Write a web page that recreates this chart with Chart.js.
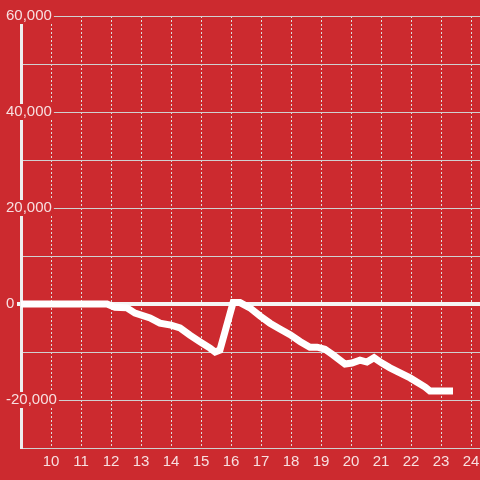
<!DOCTYPE html>
<html>
<head>
<meta charset="utf-8">
<script src="https://cdn.jsdelivr.net/npm/chart.js@4/dist/chart.umd.min.js"></script>
<style>
  html, body { margin: 0; padding: 0; background: #cc2a2f; }
  #wrap { width: 480px; height: 480px; position: relative; }
</style>
</head>
<body>
<div id="wrap"><canvas id="chart"></canvas></div>
<script>
  const BG = "#cc2a2f";
  const TEXT = "rgba(255, 255, 255, 0.85)";

  // hour of day -> running value
  const hours = [9, 11.87, 12.13, 12.53, 12.8, 13.3, 13.63, 14.0, 14.3, 14.63, 14.97, 15.3,
    15.47, 15.63, 16.07, 16.3, 16.63, 16.97, 17.3, 17.63, 17.97, 18.3, 18.63, 18.87, 19.13,
    19.4, 19.8, 20.03, 20.3, 20.53, 20.77, 21.03, 21.3, 21.97, 22.47, 22.63, 23.4];
  const values = [0, 0, -700, -800, -1900, -2900, -4000, -4400, -5000, -6500, -7900, -9200,
    -10000, -9600, 300, 300, -800, -2500, -4000, -5200, -6400, -7800, -9000, -9000, -9400,
    -10600, -12500, -12300, -11700, -12100, -11200, -12300, -13300, -15400, -17300, -18100, -18100];

  const yMin = -30000, yMax = 60000, yStep = 10000, yLabelEvery = 20000;
  const xMin = 9, xMax = 24.3;

  const points = hours.map((h, i) => ({ x: h, y: values[i] }));
  const isZero = (c) => c.tick && c.tick.value === 0;

  new Chart(document.getElementById("chart"), {
    type: "line",
    data: {
      datasets: [{
        data: points,
        borderColor: "#ffffff",
        borderWidth: 7,
        pointRadius: 0,
        tension: 0,
        fill: false,
      }],
    },
    options: {
      responsive: true,
      maintainAspectRatio: false,
      animation: false,
      layout: { padding: { left: 6, top: 16, right: 0, bottom: 0 } },
      plugins: { legend: { display: false }, tooltip: { enabled: false } },
      scales: {
        x: {
          type: "linear",
          min: xMin,
          max: xMax,
          border: { display: false, dash: [2, 2] },
          grid: {
            color: "#dddddd",
            lineWidth: 1,
            drawTicks: false,
          },
          ticks: {
            stepSize: 1,
            includeBounds: false,
            autoSkip: false,
            maxRotation: 0,
            padding: 5,
            color: TEXT,
            font: { family: "'Liberation Sans', Arial, sans-serif", size: 15 },
            callback: (v) => (v === xMin ? "" : String(v)),
          },
          afterFit: (s) => { s.height = 32; s.paddingLeft = 0; s.paddingRight = 0; },
        },
        y: {
          min: yMin,
          max: yMax,
          border: { display: true, color: "#eeeeee", width: 3 },
          grid: {
            color: (c) => (isZero(c) ? "#f5f5f5" : "#d0d0d0"),
            lineWidth: (c) => (isZero(c) ? 4 : 1),
            drawTicks: true,
            tickLength: 4,
            tickColor: (c) => (isZero(c) ? "#f5f5f5" : "rgba(0,0,0,0)"),
            tickWidth: (c) => (isZero(c) ? 4 : 1),
          },
          ticks: {
            stepSize: yStep,
            autoSkip: false,
            mirror: true,
            crossAlign: "near",
            padding: -15,
            color: TEXT,
            font: { family: "'Liberation Sans', Arial, sans-serif", size: 15 },
            showLabelBackdrop: (c) => c.tick && c.tick.value % yLabelEvery === 0,
            backdropColor: BG,
            backdropPadding: { top: -1, bottom: -1, left: 2, right: 2 },
            callback: (v) => (v % yLabelEvery === 0 ? v.toLocaleString("en-US") : ""),
          },
          afterFit: (s) => { s.width = 15; s.paddingTop = 0; s.paddingBottom = 0; },
        },
      },
    },
  });
</script>
</body>
</html>
